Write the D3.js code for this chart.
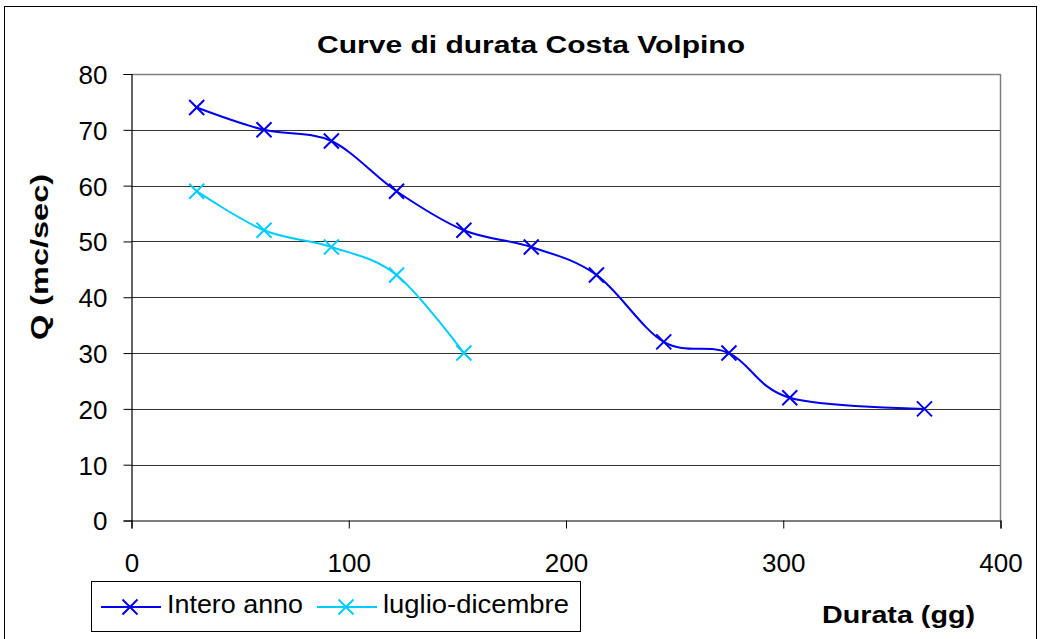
<!DOCTYPE html>
<html>
<head>
<meta charset="utf-8">
<script src="https://cdn.jsdelivr.net/npm/d3@7"></script>
<style>
  body { margin: 0; background: #fff; }
  text { font-family: "Liberation Sans", Arial, sans-serif; }
</style>
</head>
<body>
<svg id="chart" width="1042" height="639"></svg>
<script>
// days of duration and flows (mc/sec)
const daysAnno = [30, 61, 92, 122, 153, 184, 214, 245, 275, 303, 365];
const qAnno = [74, 70, 68, 59, 52, 49, 44, 32, 30, 22, 20];
const daysLuglio = [30, 61, 92, 122, 153];
const qLuglio = [59, 52, 49, 44, 30];
const xTicks = [0, 100, 200, 300, 400];
const yTicks = [0, 10, 20, 30, 40, 50, 60, 70, 80];

const series = [
  { name: "Intero anno", color: "#0000ee", x: daysAnno, y: qAnno, len: 136 },
  { name: "luglio-dicembre", color: "#00ccff", x: daysLuglio, y: qLuglio, len: 186 }
];

const svg = d3.select("#chart");

// outer frame
svg.append("rect")
  .attr("x", 4.5).attr("y", 6.5)
  .attr("width", 1032).attr("height", 640)
  .attr("fill", "none").attr("stroke", "#000").attr("stroke-width", 1);

const x = d3.scaleLinear().domain([0, 400]).range([131.5, 1000.5]);
const y = d3.scaleLinear().domain([0, 80]).range([520.5, 74]);

// gridlines
svg.append("g")
  .selectAll("line")
  .data(yTicks.filter(d => d > 0))
  .join("line")
  .attr("x1", x(0)).attr("x2", x(400))
  .attr("y1", d => Math.round(y(d)) + 0.5).attr("y2", d => Math.round(y(d)) + 0.5)
  .attr("stroke", d => d === 80 ? "#808080" : "#333")
  .attr("stroke-width", d => d === 80 ? 1.5 : 1.2);

// right border of plot area
svg.append("line")
  .attr("x1", x(400)).attr("x2", x(400))
  .attr("y1", y(80)).attr("y2", y(0))
  .attr("stroke", "#808080").attr("stroke-width", 1.5);

// axes
const yAxis = svg.append("g")
  .attr("transform", `translate(${x(0)},0)`)
  .call(d3.axisLeft(y).tickValues(yTicks).tickSize(8).tickPadding(16));
const xAxis = svg.append("g")
  .attr("transform", `translate(0,${y(0)})`)
  .call(d3.axisBottom(x).tickValues(xTicks).tickSize(8));

[yAxis, xAxis].forEach(a => {
  a.select(".domain").attr("stroke", "#000").attr("stroke-width", 1.2);
  a.selectAll(".tick line").attr("stroke", "#000");
  a.selectAll(".tick text")
    .attr("font-size", 26)
    .attr("font-family", "Liberation Sans, Arial, sans-serif")
    .attr("fill", "#000");
});
yAxis.selectAll(".tick text").attr("dy", "0.36em");
xAxis.selectAll(".tick text").attr("y", 51.5).attr("dy", 0);

// title
svg.append("text")
  .attr("x", 317).attr("y", 53)
  .attr("font-size", 23).attr("font-weight", "bold")
  .attr("textLength", 428).attr("lengthAdjust", "spacingAndGlyphs")
  .text("Curve di durata Costa Volpino");

// axis titles
svg.append("text")
  .attr("transform", "translate(48,340) rotate(-90)")
  .attr("font-size", 23).attr("font-weight", "bold")
  .attr("textLength", 166).attr("lengthAdjust", "spacingAndGlyphs")
  .text("Q (mc/sec)");

svg.append("text")
  .attr("x", 822).attr("y", 623)
  .attr("font-size", 23).attr("font-weight", "bold")
  .attr("textLength", 153).attr("lengthAdjust", "spacingAndGlyphs")
  .text("Durata (gg)");

// lines + markers
const line = d3.line()
  .x(d => x(d[0]))
  .y(d => y(d[1]))
  .curve(d3.curveCatmullRom.alpha(0));

function cross(g, cx, cy, color) {
  const s = 7.5;
  g.append("path")
    .attr("d", `M${cx - s},${cy - s}L${cx + s},${cy + s}M${cx - s},${cy + s}L${cx + s},${cy - s}`)
    .attr("stroke", color).attr("stroke-width", 2).attr("fill", "none");
}

series.forEach(s => {
  const pts = s.x.map((d, i) => [d, s.y[i]]);
  const g = svg.append("g");
  g.append("path")
    .datum(pts)
    .attr("d", line)
    .attr("fill", "none")
    .attr("stroke", s.color)
    .attr("stroke-width", 2);
  pts.forEach(p => cross(g, x(p[0]), y(p[1]), s.color));
});

// legend
const leg = svg.append("g");
leg.append("rect")
  .attr("x", 91.5).attr("y", 581.5)
  .attr("width", 489).attr("height", 50)
  .attr("fill", "#fff").attr("stroke", "#000");

const legX = [101, 317];
series.forEach((s, i) => {
  const lx = legX[i];
  const gy = 607;
  const g = leg.append("g");
  g.append("line")
    .attr("x1", lx).attr("x2", lx + 60)
    .attr("y1", gy).attr("y2", gy)
    .attr("stroke", s.color).attr("stroke-width", 2);
  cross(g, lx + 29, gy, s.color);
  g.append("text")
    .attr("x", lx + 66).attr("y", 613)
    .attr("font-size", 25)
    .attr("textLength", s.len).attr("lengthAdjust", "spacingAndGlyphs")
    .text(s.name);
});
</script>
</body>
</html>
